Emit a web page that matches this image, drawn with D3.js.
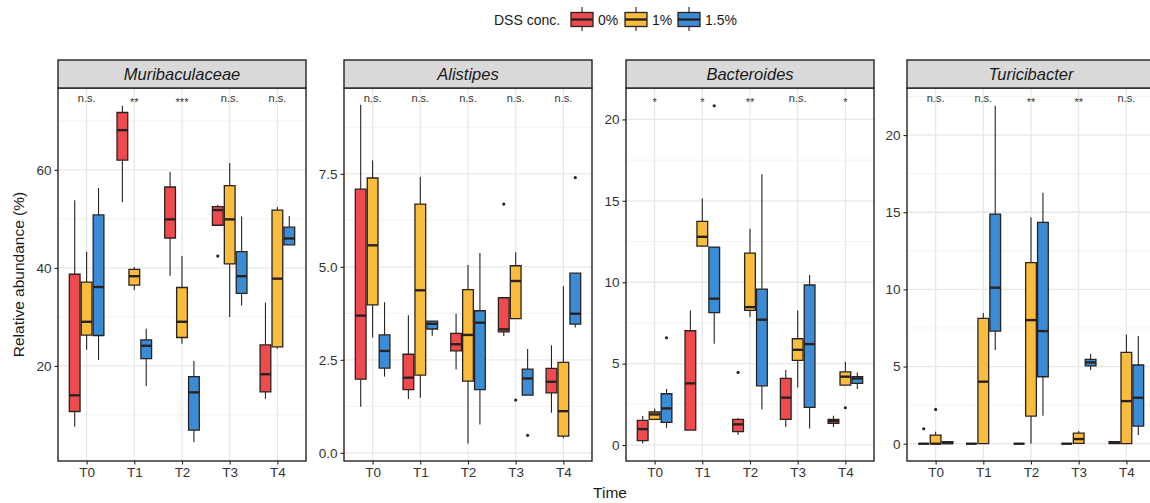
<!DOCTYPE html>
<html>
<head>
<meta charset="utf-8">
<script src="https://cdn.jsdelivr.net/npm/d3@7"></script>
<style>
  body { margin: 0; background: #fff; }
  svg { display: block; font-family: "Liberation Sans", Arial, Helvetica, sans-serif; }
</style>
</head>
<body>
<svg id="chart"></svg>
<script>
// categories
const times = ["T0", "T1", "T2", "T3", "T4"];
const doses = ["0%", "1%", "1.5%"];
const doseColors = ["#EF4B4F", "#F9BC3D", "#3B8CD7"];
const genera = ["Muribaculaceae", "Alistipes", "Bacteroides", "Turicibacter"];

// box stats per time (T0..T4), per dose (0%, 1%, 1.5%): [whiskerLow, q1, median, q3, whiskerHigh]
const muribaculaceaeStats = [
    [[7.6, 10.7, 14.0, 38.7, 53.8], [23.3, 26.3, 29.0, 37.1, 43.3], [21.2, 26.2, 36.1, 50.8, 56.3]],
    [[53.4, 62.0, 68.1, 71.7, 73.1], [35.5, 36.5, 38.3, 39.7, 40.2], [15.9, 21.5, 24.1, 25.3, 27.6]],
    [[38.4, 46.1, 49.9, 56.5, 59.6], [24.5, 25.8, 29.0, 36.0, 42.4], [4.4, 6.9, 14.6, 17.8, 21.0]],
    [[48.7, 48.7, 51.8, 52.5, 52.9], [30.0, 40.8, 49.9, 56.8, 61.4], [32.3, 34.8, 38.3, 43.3, 50.5]],
    [[13.3, 14.7, 18.3, 24.3, 32.9], [23.5, 23.9, 37.8, 51.8, 52.4], [44.7, 44.7, 46.0, 48.3, 50.6]]
];
const alistipesStats = [
    [[1.24, 1.98, 3.69, 7.09, 9.36], [3.10, 3.98, 5.58, 7.39, 7.86], [2.05, 2.28, 2.74, 3.17, 4.05]],
    [[1.45, 1.70, 2.02, 2.65, 3.70], [1.48, 2.09, 4.37, 6.69, 7.42], [3.15, 3.33, 3.47, 3.54, 3.54]],
    [[2.24, 2.74, 2.92, 3.21, 3.74], [0.25, 1.93, 3.17, 4.39, 5.05], [0.76, 1.70, 3.50, 3.82, 5.37]],
    [[3.14, 3.25, 3.32, 4.17, 4.17], [3.61, 3.61, 4.62, 5.03, 5.39], [1.55, 1.55, 2.00, 2.25, 2.79]],
    [[1.08, 1.61, 1.91, 2.27, 2.89], [0.39, 0.45, 1.12, 2.43, 4.48], [3.37, 3.46, 3.74, 4.83, 4.83]]
];
const bacteroidesStats = [
    [[0.10, 0.27, 0.98, 1.51, 1.78], [1.58, 1.58, 1.88, 2.03, 2.25], [1.06, 1.39, 2.25, 3.15, 3.44]],
    [[0.92, 0.92, 3.79, 7.02, 8.27], [12.22, 12.22, 12.79, 13.74, 15.15], [6.22, 8.13, 8.99, 12.16, 12.16]],
    [[0.61, 0.82, 1.27, 1.58, 1.64], [7.86, 8.27, 8.47, 11.79, 13.29], [2.19, 3.64, 7.70, 9.58, 16.64]],
    [[1.11, 1.58, 2.91, 4.09, 4.61], [3.54, 5.20, 5.85, 6.53, 8.27], [1.02, 2.31, 6.20, 9.83, 10.44]],
    [[1.11, 1.33, 1.47, 1.58, 1.80], [3.68, 3.68, 4.20, 4.50, 5.12], [3.44, 3.79, 4.09, 4.20, 4.46]]
];
const turicibacterStats = [
    [[0, 0, 0, 0, 0], [0, 0, 0, 0.56, 0.78], [0, 0, 0.04, 0.13, 0.13]],
    [[0, 0, 0, 0, 0], [0, 0, 4.02, 8.12, 8.47], [6.07, 7.30, 10.11, 14.88, 21.9]],
    [[0, 0, 0, 0, 0], [0, 1.79, 8.01, 11.73, 14.67], [1.81, 4.34, 7.30, 14.34, 16.26]],
    [[0, 0, 0, 0, 0], [0, 0.02, 0.30, 0.69, 0.82], [4.77, 5.05, 5.27, 5.46, 5.81]],
    [[0, 0, 0.06, 0.13, 0.13], [0, 0, 2.76, 5.92, 7.08], [0.56, 1.14, 2.98, 5.10, 6.98]]
];

// outliers: [time, dose, value]
const muribaculaceaeOutliers = [["T3", "0%", 42.4]];
const alistipesOutliers = [["T3", "0%", 6.69], ["T3", "1%", 1.42], ["T3", "1.5%", 0.47], ["T4", "1.5%", 7.40]];
const bacteroidesOutliers = [["T0", "1.5%", 6.59], ["T1", "1.5%", 20.84], ["T2", "0%", 4.46], ["T4", "1%", 2.29]];
const turicibacterOutliers = [["T0", "0%", 0.97], ["T0", "1%", 2.22]];

// significance labels per time
const muribaculaceaeSig = ["n.s.", "**", "***", "n.s.", "n.s."];
const alistipesSig = ["n.s.", "n.s.", "n.s.", "n.s.", "n.s."];
const bacteroidesSig = ["*", "*", "**", "n.s.", "*"];
const turicibacterSig = ["n.s.", "n.s.", "**", "**", "n.s."];

// y axis domains and ticks
const yDomains = [[0.6, 76.7], [-0.22, 9.81], [-0.98, 21.93], [-1.12, 23.05]];
const yTicks = [[20, 40, 60], [0, 2.5, 5, 7.5], [0, 5, 10, 15, 20], [0, 5, 10, 15, 20]];
const yMinorTicks = [[10, 30, 50, 70], [1.25, 3.75, 6.25, 8.75], [2.5, 7.5, 12.5, 17.5], [2.5, 7.5, 12.5, 17.5, 22.5]];
const yFormats = [d3.format("d"), d3.format(".1f"), d3.format("d"), d3.format("d")];

const allStats = [muribaculaceaeStats, alistipesStats, bacteroidesStats, turicibacterStats];
const allOutliers = [muribaculaceaeOutliers, alistipesOutliers, bacteroidesOutliers, turicibacterOutliers];
const allSig = [muribaculaceaeSig, alistipesSig, bacteroidesSig, turicibacterSig];

const width = 1150;
const height = 503;
const panelLefts = [58, 344, 626, 907];
const panelW = 248;
const stripTop = 60;
const stripH = 28;
const plotTop = stripTop + stripH;
const plotBottom = 461;
const ink = "#2a2220";
const textCol = "#333";

const svg = d3.select("#chart").attr("width", width).attr("height", height);

genera.forEach((genus, gi) => {
    const left = panelLefts[gi];
    const x = d3.scalePoint().domain(times).range([left, left + panelW]).padding(0.6);
    const y = d3.scaleLinear().domain(yDomains[gi]).range([plotBottom, plotTop]);
    const step = x.step();
    const dodge = step * 0.75 / 3;
    const boxW = dodge * 0.9;

    const g = svg.append("g");
    const clipId = "clip" + gi;
    g.append("clipPath").attr("id", clipId)
        .append("rect").attr("x", left).attr("y", plotTop).attr("width", panelW).attr("height", plotBottom - plotTop);

    g.append("rect").attr("x", left).attr("y", plotTop).attr("width", panelW).attr("height", plotBottom - plotTop)
        .attr("fill", "#fff");

    // grid
    const grid = g.append("g").attr("clip-path", `url(#${clipId})`);
    grid.selectAll(".minor").data(yMinorTicks[gi]).join("line")
        .attr("x1", left).attr("x2", left + panelW)
        .attr("y1", d => y(d)).attr("y2", d => y(d))
        .attr("stroke", "#F0F0F0").attr("stroke-width", 0.8);
    grid.selectAll(".major").data(yTicks[gi]).join("line")
        .attr("x1", left).attr("x2", left + panelW)
        .attr("y1", d => y(d)).attr("y2", d => y(d))
        .attr("stroke", "#E8E8E8").attr("stroke-width", 1.3);
    grid.selectAll(".vx").data(times).join("line")
        .attr("x1", d => x(d)).attr("x2", d => x(d))
        .attr("y1", plotTop).attr("y2", plotBottom)
        .attr("stroke", "#E8E8E8").attr("stroke-width", 1.3);

    // boxes
    const marks = g.append("g").attr("clip-path", `url(#${clipId})`);
    allStats[gi].forEach((perTime, ti) => {
        perTime.forEach((s, di) => {
            const cx = x(times[ti]) + (di - 1) * dodge;
            const [lo, q1, med, q3, hi] = s;
            marks.append("line").attr("x1", cx).attr("x2", cx).attr("y1", y(hi)).attr("y2", y(q3))
                .attr("stroke", ink).attr("stroke-width", 1.1);
            marks.append("line").attr("x1", cx).attr("x2", cx).attr("y1", y(q1)).attr("y2", y(lo))
                .attr("stroke", ink).attr("stroke-width", 1.1);
            const x0 = cx - boxW / 2, x1 = cx + boxW / 2;
            marks.append("path")
                .attr("d", `M${x0},${y(q3)}H${x1}V${y(q1)}H${x0}Z`)
                .attr("fill", doseColors[di]).attr("stroke", ink).attr("stroke-width", 1.3);
            marks.append("line").attr("x1", x0).attr("x2", x1).attr("y1", y(med)).attr("y2", y(med))
                .attr("stroke", ink).attr("stroke-width", 2.4);
        });
    });

    marks.selectAll(".out").data(allOutliers[gi]).join("circle")
        .attr("cx", d => x(d[0]) + (doses.indexOf(d[1]) - 1) * dodge)
        .attr("cy", d => y(d[2]))
        .attr("r", 1.6).attr("fill", ink);

    // significance labels
    g.selectAll(".sig").data(allSig[gi]).join("text")
        .attr("x", (d, i) => x(times[i]))
        .attr("y", d => d === "n.s." ? plotTop + 14 : plotTop + 17.5)
        .attr("text-anchor", "middle")
        .attr("font-size", 11)
        .attr("fill", textCol)
        .text(d => d);

    // panel border
    g.append("rect").attr("x", left).attr("y", plotTop).attr("width", panelW).attr("height", plotBottom - plotTop)
        .attr("fill", "none").attr("stroke", ink).attr("stroke-width", 1.4);

    // strip
    g.append("rect").attr("x", left).attr("y", stripTop).attr("width", panelW).attr("height", stripH)
        .attr("fill", "#D9D9D9").attr("stroke", ink).attr("stroke-width", 1.4);
    g.append("text").attr("x", left + panelW / 2).attr("y", stripTop + stripH / 2 + 6)
        .attr("text-anchor", "middle").attr("font-size", 16.5).attr("font-style", "italic")
        .attr("fill", "#1a1a1a").text(genus);

    // axes
    const yAxis = d3.axisLeft(y).tickValues(yTicks[gi]).tickFormat(yFormats[gi]).tickSize(3.5).tickPadding(3);
    const ya = g.append("g").attr("transform", `translate(${left},0)`).call(yAxis);
    ya.select(".domain").remove();
    ya.selectAll("line").attr("stroke", ink).attr("stroke-width", 1.1);
    ya.selectAll("text").attr("font-size", 13.5).attr("fill", textCol).attr("font-family", null);

    const xAxis = d3.axisBottom(x).tickSize(3.5).tickPadding(3);
    const xa = g.append("g").attr("transform", `translate(0,${plotBottom})`).call(xAxis);
    xa.select(".domain").remove();
    xa.selectAll("line").attr("stroke", ink).attr("stroke-width", 1.1);
    xa.selectAll("text").attr("font-size", 13.5).attr("fill", textCol).attr("font-family", null);
});

// axis titles
svg.append("text").attr("x", 610).attr("y", 498).attr("text-anchor", "middle")
    .attr("font-size", 15.5).attr("fill", "#1a1a1a").text("Time");
svg.append("text").attr("transform", `translate(24,${(plotTop + plotBottom) / 2}) rotate(-90)`)
    .attr("text-anchor", "middle").attr("font-size", 15.5).attr("fill", "#1a1a1a")
    .text("Relative abundance (%)");

// legend
const legend = svg.append("g");
legend.append("text").attr("x", 494).attr("y", 25).attr("font-size", 14).attr("fill", "#1a1a1a").text("DSS conc.");
const keyX = [571, 625, 678];
doses.forEach((d, i) => {
    const kx = keyX[i];
    const kc = kx + 11;
    legend.append("line").attr("x1", kc).attr("x2", kc).attr("y1", 7).attr("y2", 31)
        .attr("stroke", ink).attr("stroke-width", 1.1);
    legend.append("rect").attr("x", kx).attr("y", 12.5).attr("width", 22).attr("height", 14)
        .attr("fill", doseColors[i]).attr("stroke", ink).attr("stroke-width", 1.3);
    legend.append("line").attr("x1", kx).attr("x2", kx + 22).attr("y1", 19.5).attr("y2", 19.5)
        .attr("stroke", ink).attr("stroke-width", 2.4);
    legend.append("text").attr("x", kx + 27).attr("y", 25).attr("font-size", 14).attr("fill", "#1a1a1a").text(d);
});
</script>
</body>
</html>
